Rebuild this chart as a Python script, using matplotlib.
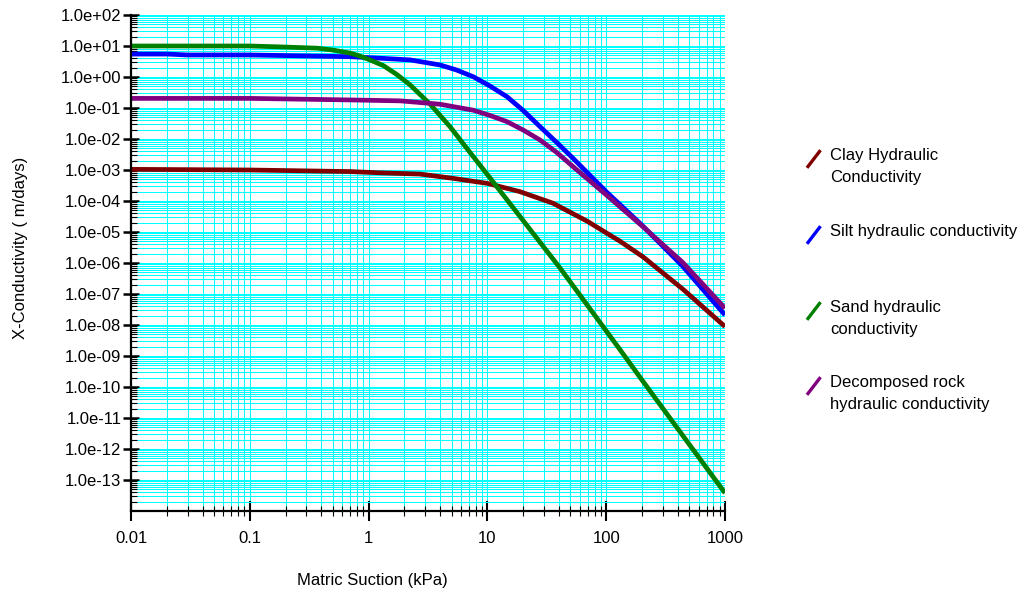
import matplotlib
matplotlib.use("Agg")
import matplotlib.pyplot as plt
from matplotlib.ticker import LogLocator, FixedLocator, FuncFormatter, NullFormatter
from matplotlib.lines import Line2D

plt.rcParams['font.family'] = ['Liberation Sans', 'DejaVu Sans']
plt.rcParams['font.size'] = 12

# Matric suction (kPa) and hydraulic conductivity (m/day) for each soil
clay_suction = [0.01, 0.1, 0.7, 1.25, 2.7, 5.1, 10, 18.8, 35.6, 69, 131, 204, 444, 1000]
clay_k = [1.05e-3, 1.0e-3, 8.9e-4, 8.1e-4, 7.4e-4, 5.4e-4, 3.7e-4, 2.0e-4, 8.5e-5,
          2.24e-5, 5.0e-6, 1.58e-6, 1.41e-7, 8.9e-9]

silt_suction = [0.01, 0.02, 0.03, 0.1, 0.7, 1.33, 2.25, 4.0, 5.5, 7.6, 10.5, 14.6, 20,
                27.7, 38.5, 52.5, 100, 200, 440, 1000]
silt_k = [5.5, 5.5, 5.13, 5.13, 4.52, 3.98, 3.55, 2.44, 1.68, 1.02, 0.513, 0.232, 0.0832,
          0.0251, 7.6e-3, 2.4e-3, 2.0e-4, 1.66e-5, 7.9e-7, 2.1e-8]

sand_suction = [0.01, 0.1, 0.19, 0.37, 0.5, 0.7, 0.85, 1.0, 1.33, 1.73, 2.23, 3.3, 4.84,
                7.13, 10.5, 41, 131, 205, 1000]
sand_k = [10.0, 10.0, 9.3, 8.5, 7.4, 5.9, 4.7, 3.7, 2.34, 1.2, 0.56, 0.132, 0.0251,
          3.7e-3, 5.6e-4, 6.76e-7, 1.58e-9, 1.48e-10, 3.8e-14]

rock_suction = [0.01, 0.1, 0.7, 1.84, 3.3, 4.0, 7.6, 10.5, 14.6, 20, 27.7, 38.5, 52.5,
                100, 200, 440, 1000]
rock_k = [0.204, 0.204, 0.182, 0.170, 0.141, 0.132, 0.085, 0.0575, 0.0363, 0.0195, 9.3e-3,
          3.63e-3, 1.29e-3, 1.58e-4, 1.58e-5, 1.05e-6, 3.47e-8]

series_labels = ["Clay Hydraulic\nConductivity", "Silt hydraulic conductivity",
                 "Sand hydraulic\nconductivity", "Decomposed rock\nhydraulic conductivity"]
series_colors = ["#800000", "#0000FF", "#008000", "#800080"]
y_major_exponents = list(range(-13, 3))

W, H = 1021, 593
fig = plt.figure(figsize=(W / 100, H / 100), dpi=100)
left, right, top, bottom = 131, 725, 15, 511
ax = fig.add_axes([left / W, 1 - bottom / H, (right - left) / W, (bottom - top) / H])

ax.set_xscale('log')
ax.set_yscale('log')
ax.set_xlim(0.01, 1000)
ax.set_ylim(1e-14, 1e2)

# grid
ax.xaxis.set_major_locator(LogLocator(base=10, numticks=20))
ax.xaxis.set_minor_locator(LogLocator(base=10, subs=range(2, 10), numticks=20))
ax.yaxis.set_major_locator(FixedLocator([10.0 ** e for e in y_major_exponents]))
ax.yaxis.set_minor_locator(LogLocator(base=10, subs=range(2, 10), numticks=40))
ax.grid(True, which='both', color='#00FFFF', linewidth=0.75)
ax.set_axisbelow(True)

x_labels = {0.01: "0.01", 0.1: "0.1", 1: "1", 10: "10", 100: "100", 1000: "1000"}
ax.xaxis.set_major_formatter(FuncFormatter(
    lambda v, p: x_labels.get(round(v, 4) if v < 1 else int(round(v)), "")))
ax.xaxis.set_minor_formatter(NullFormatter())
ax.yaxis.set_major_formatter(FuncFormatter(lambda v, p: "%.1e" % v))
ax.yaxis.set_minor_formatter(NullFormatter())

for s in ('top', 'right'):
    ax.spines[s].set_visible(False)
for s in ('left', 'bottom'):
    ax.spines[s].set_linewidth(1.6)
    ax.spines[s].set_color('black')

ax.tick_params(axis='x', which='major', direction='inout', length=14.5, width=1.5, pad=7,
               labelsize=12)
ax.tick_params(axis='x', which='minor', direction='inout', length=7, width=0.8)
ax.tick_params(axis='y', which='major', direction='inout', length=11, width=1.8, pad=1.5,
               labelsize=12)
ax.tick_params(axis='y', which='minor', direction='in', length=4, width=0.8)

curves = [(clay_suction, clay_k), (silt_suction, silt_k), (sand_suction, sand_k),
          (rock_suction, rock_k)]
for (xs, ys), c in zip(curves, series_colors):
    ax.plot(xs, ys, color=c, linewidth=3.4, solid_joinstyle='round', solid_capstyle='butt',
            clip_on=True)

fig.text(372 / W, 1 - 580 / H, "Matric Suction (kPa)", ha='center', va='center', fontsize=12)
fig.text(20 / W, 1 - 248 / H, "X-Conductivity ( m/days)", ha='center', va='center',
         rotation=90, fontsize=12)

# legend drawn beside the axes
legend_rows = [159, 235, 311, 386]
for lab, c, yc in zip(series_labels, series_colors, legend_rows):
    fig.add_artist(Line2D([808 / W, 819.5 / W], [1 - (yc + 7.5) / H, 1 - (yc - 7.5) / H],
                          color=c, linewidth=2.4, transform=fig.transFigure))
    fig.text(830 / W, 1 - (yc - 11) / H, lab, ha='left', va='top', fontsize=12,
             linespacing=1.55)

fig.savefig("out.png", dpi=100)
